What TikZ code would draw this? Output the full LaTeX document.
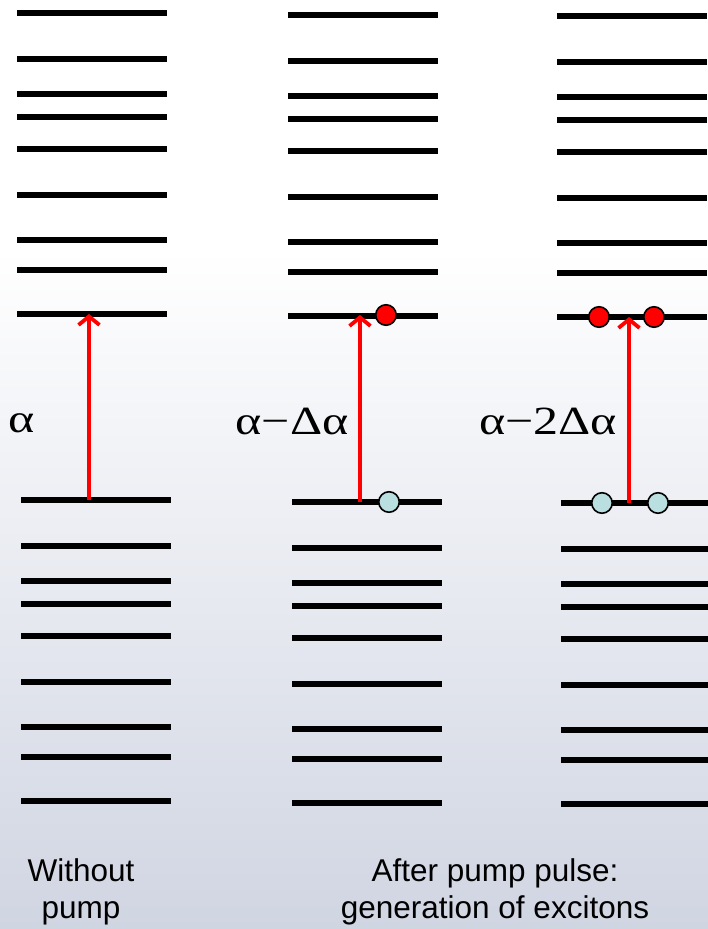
\documentclass[tikz,border=0pt]{standalone}
\usepackage{fontspec}
\setmainfont{Liberation Serif}
\setsansfont{Liberation Sans}
\newfontfamily\gapfont[FakeStretch=1.25]{Liberation Serif}
\usetikzlibrary{arrows.meta, positioning}
\definecolor{bgbottom}{HTML}{D0D5E2}
\definecolor{holecyan}{HTML}{B9DFE0}
\definecolor{pumpred}{HTML}{FF0000}

\begin{document}
\begin{tikzpicture}[x=1pt, y=-1pt,
      level/.style={line width=5.5pt},
      pump/.style={draw=pumpred, line width=3.8pt,
        -{Straight Barb[length=8.5pt, width=21pt]}},
      electron/.style={circle, draw, line width=1.6pt, fill=pumpred,
        minimum size=20.5pt, inner sep=0pt},
      hole/.style={electron, fill=holecyan},
      gaplabel/.style={font=\gapfont\fontsize{40}{48}\selectfont,
        inner sep=0pt, anchor=base},
      caption/.style={font=\sffamily\fontsize{31.5}{37}\selectfont,
        align=center, inner sep=0pt}
    ]
      \useasboundingbox (0,0) rectangle (708,929);
      % background
      \fill[white] (0,0) rectangle (708,250);
      \shade[top color=white, bottom color=bgbottom] (0,249) rectangle (708,929);
      % energy levels, upper and lower band of each column
      \foreach \xl/\yt/\yb in {17/13/500, 288/15/502, 557/16/503} {
        \foreach \d in {0,46,81,104,136,182,227,257,301} {
          \draw[level] (\xl,\yt+\d) -- ++(150,0);
          \draw[level] (\xl+4,\yb+\d) -- ++(150,0);
        }
      }
      \coordinate (hi1) at (89,314);
      \coordinate (lo1) at (89,500);
      \coordinate (hi2) at (360,315);
      \coordinate (lo2) at (360,502);
      \coordinate (hi3) at (629,317);
      \coordinate (lo3) at (629,503);
      \draw[pump] (lo1) -- (hi1);
      \draw[pump] (lo2) -- (hi2);
      \draw[pump] (lo3) -- (hi3);
      % excitons
      \node[electron] (e2) at (386,315) {};
      \node[hole] (h2) at (389,502) {};
      \node[electron] (e3a) at (599,317) {};
      \node[electron] (e3b) at (654,317) {};
      \node[hole] (h3a) at (602,503) {};
      \node[hole] (h3b) at (658,503) {};
      % gap labels
      \node[gaplabel] (gap1) at (22,432) {α};
      \node[gaplabel] (gap2) at (292,434) {α−Δα};
      \node[gaplabel] (gap3) at (548,434) {α−2Δα};
      % captions
      \node[caption] (without) at (81,892) {Without\\pump};
      \node[caption] (after) at (495,892)
        {After pump pulse:\\generation of excitons};
    \end{tikzpicture}
\end{document}
